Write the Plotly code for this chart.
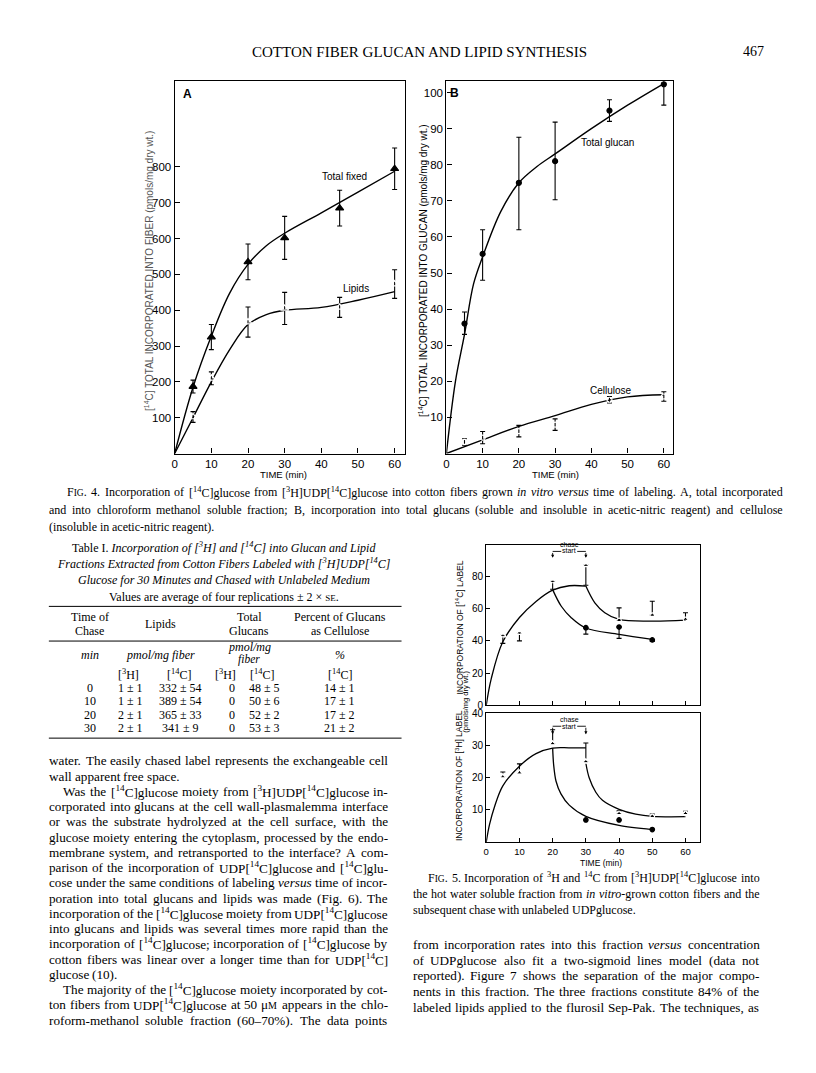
import re
import plotly.graph_objects as go

W, H = 816, 1073
OFF = 8  # default page margin of the html body
FW, FH = W - OFF, H - OFF
SERIF = "Liberation Serif"
SANS = "Liberation Sans"

# ---------------- Fig 4A data ----------------
t4 = [5, 10, 20, 30, 45, 60]
total_fixed = [187, 325, 535, 602, 685, 795]
total_fixed_err = [18, 35, 50, 60, 50, 58]
lipids = [102, 210, 367, 405, 408, 473]
lipids_err = [15, 18, 42, 45, 28, 40]
fitA_t = [0, 5, 10, 15, 20, 25, 30, 40, 50, 60]
fit_total_fixed = [0, 185, 328, 448, 528, 580, 615, 672, 730, 788]
fit_lipids = [0, 100, 200, 290, 360, 388, 400, 408, 428, 452]

# ---------------- Fig 4B data ----------------
glucan = [36, 55.3, 75, 81, 95, 102.3]
glucan_plus = [3.2, 6.7, 12.6, 10.8, 3, 5]
glucan_minus = [3, 7.3, 13, 10.7, 3, 5.8]
cellulose = [3.2, 4.4, 6.2, 8, 14.9, 15.8]
cellulose_err = [0.9, 1.7, 1.6, 1.6, 0.9, 1.3]
fitB_t = [0, 2.5, 5, 7.5, 10, 15, 20, 25, 30, 40, 50, 60]
fit_glucan = [0, 20, 33, 47, 54.5, 67, 75, 79.5, 83, 90, 96.5, 102.5]
fitC_t = [0, 10, 20, 30, 40, 50, 60]
fit_cellulose = [0, 3.8, 7.5, 10.5, 13.6, 15.7, 16.3]

# ---------------- Fig 5 upper ([14C]) ----------------
c14_tri_t = [5, 10, 20, 30]
c14_tri = [43.5, 45, 77, 87]
c14_tri_minus = [5, 5, 5, 12.5]
c14_oc_t = [40, 50, 60]
c14_oc = [52.7, 56, 53.4]
c14_oc_plus = [7.8, 8.6, 4.1]
c14_fc_t = [30, 40, 50]
c14_fc = [48.2, 48.6, 40.6]
c14_fc_minus = [4, 7, 1]
c14_rise_t = [0, 1.5, 5, 10, 15, 20, 25, 30]
c14_rise = [0, 16.5, 39.5, 54.5, 64.5, 71.5, 74.2, 74]
c14_ch1_t = [20, 22.6, 25.6, 30, 40, 50]
c14_ch1 = [71.8, 61.5, 54.4, 48, 44.1, 41]
c14_ch2_t = [30, 32.7, 35.7, 40, 50, 60]
c14_ch2 = [74, 63.6, 57.5, 53.3, 52.3, 52.9]

# ---------------- Fig 5 lower ([3H]) ----------------
h3_tri_t = [5, 10, 20, 30]
h3_tri = [20.3, 21.5, 30.6, 25]
h3_tri_plus = [1.5, 2.8, 4.3, 5.8]
h3_oc_t = [40, 50, 60]
h3_oc = [8.9, 8, 8.9]
h3_oc_plus = [0.8, 0.7, 0.7]
h3_fc_t = [30, 40, 50]
h3_fc = [6.9, 6.9, 3.9]
h3_rise_t = [0, 1, 2.5, 5, 10, 15, 20, 25, 30]
h3_rise = [0, 5.5, 11, 17.5, 23.6, 27.5, 29.2, 29.3, 29.3]
h3_ch1_t = [20, 20.3, 21, 22.5, 25, 30, 40, 50]
h3_ch1 = [29.2, 24, 19, 15, 11.5, 8, 5.2, 3.9]
h3_ch2_t = [30, 31, 33, 35, 40, 45, 50, 60]
h3_ch2 = [24.5, 20, 15.5, 13, 10.2, 8.7, 8, 7.9]

# tick labels
t_ticks = [0, 10, 20, 30, 40, 50, 60]
yA_ticks = [100, 200, 300, 400, 500, 600, 700, 800]
yB_ticks = [10, 20, 30, 40, 50, 60, 70, 80, 90, 100]
y5u_ticks = [0, 20, 40, 60, 80]
y5l_ticks = [10, 20, 30, 40]

fig = go.Figure()

def line(x, y, ax, w=1.4, smooth=1.0):
    fig.add_trace(go.Scatter(x=x, y=y, mode="lines", xaxis="x" + ax, yaxis="y" + ax,
                             line=dict(color="black", width=w, shape="spline", smoothing=smooth),
                             hoverinfo="skip", showlegend=False))

def pts(x, y, ax, symbol, size, plus=None, minus=None, fill="black"):
    ey = None
    if plus is not None or minus is not None:
        ey = dict(type="data", symmetric=False,
                  array=plus if plus is not None else [0] * len(x),
                  arrayminus=minus if minus is not None else [0] * len(x),
                  color="black", thickness=1.1, width=2.5)
    fig.add_trace(go.Scatter(x=x, y=y, mode="markers", xaxis="x" + ax, yaxis="y" + ax,
                             marker=dict(symbol=symbol, size=size, color=fill,
                                         line=dict(color="black", width=1.2)),
                             error_y=ey, showlegend=False, hoverinfo="skip"))

# Fig 4A
line(fitA_t, fit_total_fixed, "")
line(fitA_t, fit_lipids, "")
pts(t4, total_fixed, "", "triangle-up", 7, total_fixed_err, total_fixed_err)
pts(t4, lipids, "", "triangle-up-open", 7, lipids_err, lipids_err, fill="white")
# Fig 4B
line(fitB_t, fit_glucan, "2")
line(fitC_t, fit_cellulose, "2")
pts(t4, glucan, "2", "circle", 5, glucan_plus, glucan_minus)
pts(t4, cellulose, "2", "circle-open", 5, cellulose_err, cellulose_err, fill="white")
# Fig 5 upper
line(c14_rise_t, c14_rise, "3", 1.3)
line(c14_ch1_t, c14_ch1, "3", 1.3)
line(c14_ch2_t, c14_ch2, "3", 1.3)
pts(c14_tri_t, c14_tri, "3", "triangle-up-open", 6, None, c14_tri_minus, fill="white")
pts(c14_oc_t, c14_oc, "3", "circle-open", 4.5, c14_oc_plus, None, fill="white")
pts(c14_fc_t, c14_fc, "3", "circle", 4.5, None, c14_fc_minus)
# Fig 5 lower
line(h3_rise_t, h3_rise, "4", 1.3)
line(h3_ch1_t, h3_ch1, "4", 1.3, 0.8)
line(h3_ch2_t, h3_ch2, "4", 1.3)
pts(h3_tri_t, h3_tri, "4", "triangle-up-open", 6, h3_tri_plus, None, fill="white")
pts(h3_oc_t, h3_oc, "4", "circle-open", 4.5, h3_oc_plus, None, fill="white")
pts(h3_fc_t, h3_fc, "4", "circle", 4.5)

def px(x):
    return (x - OFF) / FW

def py(y):
    return 1 - (y - OFF) / FH

def axis(dom, rng, tickvals, size=11, ticklen=5, labels=True, anchor=None):
    d = dict(domain=dom, range=rng, tickvals=tickvals, showline=True, linecolor="black",
             linewidth=1.3, mirror=True, ticks="inside", ticklen=ticklen, tickcolor="black",
             tickwidth=1.1, showgrid=False, zeroline=False, showticklabels=labels,
             tickfont=dict(family=SANS, size=size, color="black"), fixedrange=True)
    if anchor:
        d["anchor"] = anchor
    return d

layout = dict(
    width=FW, height=FH, margin=dict(l=0, r=0, t=0, b=0), autosize=False,
    paper_bgcolor="white", plot_bgcolor="white", showlegend=False,
    xaxis=axis([px(172.3), px(403)], [0, 62.7], t_ticks, size=11.5, anchor="y"),
    yaxis=axis([py(452.7), py(77)], [0, 1039], yA_ticks, size=11.5, anchor="x"),
    xaxis2=axis([px(445), px(672)], [0, 62.4], t_ticks, size=11.5, anchor="y2"),
    yaxis2=axis([py(452.7), py(77)], [0, 103.1], yB_ticks, size=11.5, anchor="x2"),
    xaxis3=axis([px(485), px(700)], [0, 64.5], t_ticks, size=10, ticklen=4, labels=False, anchor="y3"),
    yaxis3=axis([py(707), py(545)], [0, 99.5], y5u_ticks, size=10, ticklen=4, anchor="x3"),
    xaxis4=axis([px(485), px(700)], [0, 64.5], t_ticks, size=9.5, ticklen=4, anchor="y4"),
    yaxis4=axis([py(845), py(715)], [0, 40], y5l_ticks, size=10, ticklen=4, anchor="x4"),
)
fig.update_layout(**layout)

ann = []

def text(x, y, s, size=12.5, family=SERIF, anchor="left", angle=0, color="black"):
    ann.append(dict(x=px(x), y=py(y), xref="paper", yref="paper", text=s, showarrow=False,
                    xanchor=anchor, yanchor="middle", textangle=angle,
                    font=dict(family=family, size=size, color=color)))

# Times-compatible advance widths (per 1000 em) used to justify text lines
TW = {" ": 250, "!": 333, "%": 833, "(": 333, ")": 333, ",": 250, "-": 333, ".": 250, "/": 278,
      ":": 278, ";": 278, "?": 444, "[": 333, "]": 333, "±": 564, "×": 564, "–": 500, "μ": 576,
      "A": 722, "B": 667, "C": 667, "D": 722, "E": 611, "F": 556, "G": 722, "H": 722, "I": 333,
      "J": 389, "K": 722, "L": 611, "M": 889, "N": 722, "O": 722, "P": 556, "Q": 722, "R": 667,
      "S": 556, "T": 611, "U": 722, "V": 722, "W": 944, "X": 722, "Y": 722, "Z": 611,
      "a": 444, "b": 500, "c": 444, "d": 500, "e": 444, "f": 333, "g": 500, "h": 500, "i": 278,
      "j": 278, "k": 500, "l": 278, "m": 778, "n": 500, "o": 500, "p": 500, "q": 500, "r": 333,
      "s": 389, "t": 278, "u": 500, "v": 500, "w": 722, "x": 500, "y": 500, "z": 444}

def tw(s, size):
    w, scale, stack, i = 0.0, 1.0, [], 0
    while i < len(s):
        if s[i] == "<":
            j = s.index(">", i)
            tag = s[i + 1:j]
            if tag == "sup":
                stack.append(scale)
                scale = 0.7
            elif tag.startswith("span"):
                m = re.search(r"font-size:([\d.]+)px", tag)
                stack.append(scale)
                scale = float(m.group(1)) / size if m else scale
            elif tag in ("/sup", "/span"):
                scale = stack.pop()
            i = j + 1
            continue
        w += TW.get(s[i], 500) * scale
        i += 1
    return w * size / 1000.0

def para_line(s, x0, x1, y, size, full=True):
    words = re.split(r" (?![^<]*>)", s.strip())
    widths = [tw(wd, size) for wd in words]
    n = len(words)
    gap = 0.25 * size
    if full and n > 1:
        gap = max((x1 - x0 - sum(widths)) / (n - 1), 0.14 * size)
    x = x0
    for wd, w in zip(words, widths):
        text(x, y, wd, size)
        x += w + gap

BODY = 13.2
CAP = 12.0
SC = "<span style='font-size:9.5px'>IG</span>"

# Header
text(418, 47, "COTTON FIBER GLUCAN AND LIPID SYNTHESIS", 15, anchor="center")
text(766, 47, "467", 14, anchor="right")

# Fig 4 labels
text(185, 90, "<b>A</b>", 12, SANS, "center")
text(453, 89, "<b>B</b>", 12, SANS, "center")
text(343, 173, "Total fixed", 10, SANS, "center")
text(354, 286, "Lipids", 10, SANS, "center")
text(607, 139, "Total glucan", 10, SANS, "center")
text(610, 389, "Cellulose", 10, SANS, "center")
text(282, 474, "TIME (min)", 9.5, SANS, "center")
text(555, 474, "TIME (min)", 9.5, SANS, "center")
text(146, 268, "[<sup>14</sup>C] TOTAL INCORPORATED INTO FIBER (pmols/mg dry wt.)", 10, SANS,
     "center", -90, "#555555")
text(421, 268, "[<sup>14</sup>C] TOTAL INCORPORATED INTO GLUCAN (pmols/mg dry wt.)", 10, SANS,
     "center", -90)

# Fig 4 caption
para_line("F" + SC + ". 4. Incorporation of [<sup>14</sup>C]glucose from [<sup>3</sup>H]UDP[<sup>14</sup>C]glucose "
          "into cotton fibers grown <i>in</i> <i>vitro</i> <i>versus</i> time of labeling. A, total incorporated",
          62, 780, 492, CAP)
para_line("and into chloroform methanol soluble fraction; B, incorporation into total glucans "
          "(soluble and insoluble in acetic-nitric reagent) and cellulose", 44, 780, 509.5, CAP)
para_line("(insoluble in acetic-nitric reagent).", 44, 780, 527, CAP, False)

# Table I
text(222, 548, "Table I. <i>Incorporation of [<sup>3</sup>H] and [<sup>14</sup>C] into Glucan and Lipid</i>", 12, anchor="center")
text(222, 564, "<i>Fractions Extracted from Cotton Fibers Labeled with [<sup>3</sup>H]UDP[<sup>14</sup>C]</i>", 12, anchor="center")
text(222, 580, "<i>Glucose for 30 Minutes and Chased with Unlabeled Medium</i>", 12, anchor="center")
text(222, 598, "Values are average of four replications ± 2 × <span style='font-size:9px'>SE</span>.", 12, anchor="center")
for (cx, l1, l2) in [(87, "Time of", "Chase"), (247, "Total", "Glucans"), (338, "Percent of Glucans", "as Cellulose")]:
    text(cx, 618, l1, 12, anchor="center")
    text(cx, 632, l2, 12, anchor="center")
text(158, 625, "Lipids", 12, anchor="center")
text(87, 656, "<i>min</i>", 12, anchor="center")
text(158, 656, "<i>pmol/mg fiber</i>", 12, anchor="center")
text(247, 648, "<i>pmol/mg</i>", 12, anchor="center")
text(247, 661, "<i>fiber</i>", 11.5, anchor="center")
text(338, 656, "<i>%</i>", 12, anchor="center")
for cx, s in [(126, "[<sup>3</sup>H]"), (177, "[<sup>14</sup>C]"), (223, "[<sup>3</sup>H]"),
              (260, "[<sup>14</sup>C]"), (338, "[<sup>14</sup>C]")]:
    text(cx, 676, s, 12, anchor="center")

chase_min = ["0", "10", "20", "30"]
lip_3h = ["1 ± 1", "1 ± 1", "2 ± 1", "2 ± 1"]
lip_14c = ["332 ± 54", "389 ± 54", "365 ± 33", "341 ± 9"]
glu_3h = ["0", "0", "0", "0"]
glu_14c = ["48 ± 5", "50 ± 6", "52 ± 2", "53 ± 3"]
pct_cell = ["14 ± 1", "17 ± 1", "17 ± 2", "21 ± 2"]
for i in range(4):
    yy = 689 + 13.6 * i
    text(87, yy, chase_min[i], 12, anchor="center")
    text(128, yy, lip_3h[i], 12, anchor="center")
    text(178, yy, lip_14c[i], 12, anchor="center")
    text(230, yy, glu_3h[i], 12, anchor="center")
    text(262, yy, glu_14c[i], 12, anchor="center")
    text(338, yy, pct_cell[i], 12, anchor="center")

shapes = []
for yy in [607, 642, 740]:
    shapes.append(dict(type="line", xref="paper", yref="paper", x0=px(46), x1=px(400),
                       y0=py(yy), y1=py(yy), line=dict(color="black", width=1)))

# Left column body text: (text, indent, justified)
left_lines = [
    ("water. The easily chased label represents the exchangeable cell", 0, True),
    ("wall apparent free space.", 0, False),
    ("Was the [<sup>14</sup>C]glucose moiety from [<sup>3</sup>H]UDP[<sup>14</sup>C]glucose in-", 14, True),
    ("corporated into glucans at the cell wall-plasmalemma interface", 0, True),
    ("or was the substrate hydrolyzed at the cell surface, with the", 0, True),
    ("glucose moiety entering the cytoplasm, processed by the endo-", 0, True),
    ("membrane system, and retransported to the interface? A com-", 0, True),
    ("parison of the incorporation of UDP[<sup>14</sup>C]glucose and [<sup>14</sup>C]glu-", 0, True),
    ("cose under the same conditions of labeling <i>versus</i> time of incor-", 0, True),
    ("poration into total glucans and lipids was made (Fig. 6). The", 0, True),
    ("incorporation of the [<sup>14</sup>C]glucose moiety from UDP[<sup>14</sup>C]glucose", 0, True),
    ("into glucans and lipids was several times more rapid than the", 0, True),
    ("incorporation of [<sup>14</sup>C]glucose; incorporation of [<sup>14</sup>C]glucose by", 0, True),
    ("cotton fibers was linear over a longer time than for UDP[<sup>14</sup>C]", 0, True),
    ("glucose (10).", 0, False),
    ("The majority of the [<sup>14</sup>C]glucose moiety incorporated by cot-", 14, True),
    ("ton fibers from UDP[<sup>14</sup>C]glucose at 50 μ<span style='font-size:10px'>M</span> appears in the chlo-", 0, True),
    ("roform-methanol soluble fraction (60–70%). The data points", 0, True),
]
for i, (s, ind, full) in enumerate(left_lines):
    para_line(s, 44 + ind, 384, 763 + 15.4 * i, BODY, full)

# Fig 5 axis titles and labels
text(458, 628, "INCORPORATION OF [<sup>14</sup>C] LABEL", 8.5, SANS, "center", -90)
text(464, 703, "(pmols/mg dry wt.)", 7.5, SANS, "center", -90)
text(458, 778, "INCORPORATION OF [<sup>3</sup>H] LABEL", 8.5, SANS, "center", -90)
text(600, 866, "TIME (min)", 8.5, SANS, "center")

# chase start brackets
for ax, br, tip, tc, ts in [("3", 95.5, 91.5, 99.5, 96.0), ("4", 36.0, 33.5, 38.2, 36.0)]:
    for x0, x1 in [(20, 22.6), (27.4, 30)]:
        shapes.append(dict(type="line", xref="x" + ax, yref="y" + ax, x0=x0, x1=x1, y0=br, y1=br,
                           line=dict(color="black", width=0.9)))
    for xx in [20, 30]:
        ann.append(dict(x=xx, y=tip, xref="x" + ax, yref="y" + ax, ax=xx, ay=br,
                        axref="x" + ax, ayref="y" + ax, text="", showarrow=True,
                        arrowhead=2, arrowsize=0.7, arrowwidth=0.9, arrowcolor="black"))
    ann.append(dict(x=25, y=tc, xref="x" + ax, yref="y" + ax, text="chase", showarrow=False,
                    font=dict(family=SANS, size=7, color="black"), yanchor="middle"))
    ann.append(dict(x=25, y=ts, xref="x" + ax, yref="y" + ax, text="start", showarrow=False,
                    font=dict(family=SANS, size=7, color="black"), yanchor="middle"))

# Fig 5 caption
para_line("F" + SC + ". 5. Incorporation of <sup>3</sup>H and <sup>14</sup>C from [<sup>3</sup>H]UDP[<sup>14</sup>C]glucose into",
          425, 757, 881, CAP)
para_line("the hot water soluble fraction from <i>in</i> <i>vitro</i>-grown cotton fibers and the", 409, 757, 897, CAP)
para_line("subsequent chase with unlabeled UDPglucose.", 409, 757, 913, CAP, False)

right_lines = [
    "from incorporation rates into this fraction <i>versus</i> concentration",
    "of UDPglucose also fit a two-sigmoid lines model (data not",
    "reported). Figure 7 shows the separation of the major compo-",
    "nents in this fraction. The three fractions constitute 84% of the",
    "labeled lipids applied to the flurosil Sep-Pak. The techniques, as",
]
for i, s in enumerate(right_lines):
    para_line(s, 409, 757, 948 + 16 * i, BODY)

fig.update_layout(annotations=ann, shapes=shapes)
fig.write_html("out.html")
